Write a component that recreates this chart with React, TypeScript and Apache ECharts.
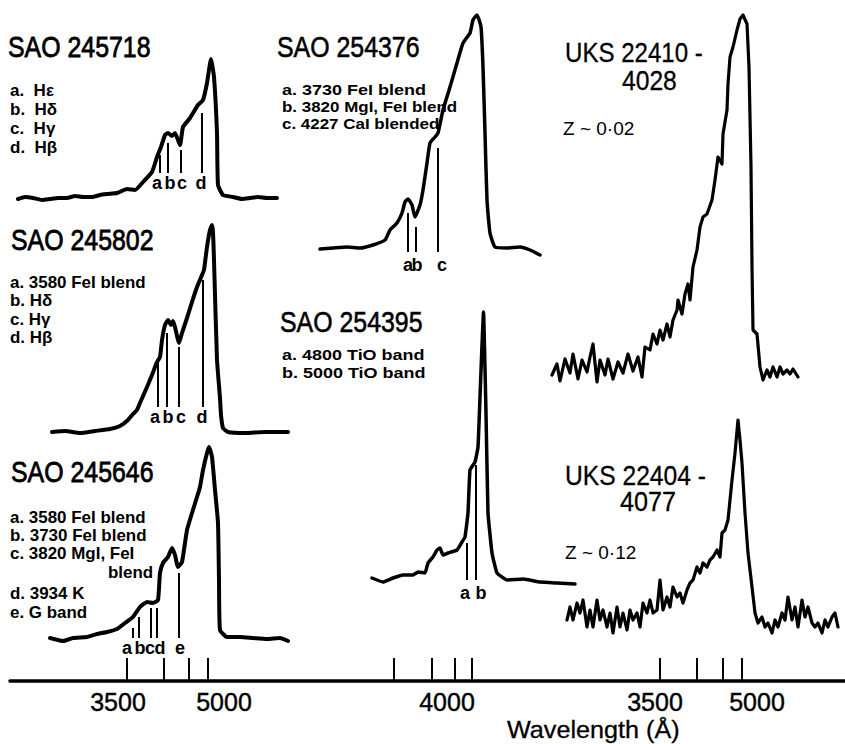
import React, { useEffect, useRef } from "react";
import * as echarts from "echarts";

// ---------------- DATA ----------------
// Positions are along the plate (arbitrary units shared with the bottom axis);
// intensities are relative, measured above each spectrum's own continuum baseline.

// SAO 245718
const sao245718Pos = [18, 25, 33, 42, 50, 58, 67, 75, 83, 92, 100, 108, 117, 127, 135, 143, 152, 157, 161, 165, 168, 172, 175, 180, 183, 190, 198, 203, 207, 211, 214, 217, 218, 223, 233, 242, 250, 258, 267, 277];
const sao245718Flux = [-1, 1, 0, -2, -1, 0, 0, 2, 1, 1, 3, 4, 5, 9, 8, 16, 26, 41, 51, 63, 65, 62, 65, 53, 71, 80, 93, 98, 115, 139, 121, 65, 13, 3, 1, -1, 0, 1, 0, 0];
const sao245718LinePos = [160, 168, 181, 202];
const sao245718LineTop = [43, 55, 48, 85];
const sao245718LetterPos = [157, 170, 182, 201];
const sao245718Letters = ["a", "b", "c", "d"];

// SAO 245802
const sao245802Pos = [52, 65, 80, 95, 110, 120, 128, 133, 137, 140, 147, 152, 157, 160, 162, 165, 168, 171, 173, 175, 179, 182, 187, 192, 197, 202, 204, 207, 210, 212, 213, 214, 217, 220, 221, 223, 228, 245, 265, 288];
const sao245802Flux = [0, 1, -1, 1, 3, 6, 12, 18, 22, 29, 45, 57, 70, 75, 92, 107, 112, 107, 111, 105, 89, 99, 114, 130, 145, 157, 162, 185, 202, 207, 200, 172, 72, 34, 17, 4, 0, -1, 0, 0];
const sao245802LinePos = [158, 167, 179, 203];
const sao245802LineTop = [69, 99, 85, 152];
const sao245802LetterPos = [155, 168, 181, 202];
const sao245802Letters = ["a", "b", "c", "d"];

// SAO 245646
const sao245646Pos = [50, 63, 73, 87, 97, 107, 117, 125, 133, 140, 147, 153, 158, 160, 163, 168, 172, 175, 178, 182, 187, 192, 197, 200, 203, 207, 209, 212, 215, 218, 219, 220, 227, 240, 253, 267, 280, 288];
const sao245646Flux = [2, -1, 2, 3, 6, 8, 11, 17, 23, 33, 38, 37, 40, 67, 77, 83, 92, 85, 73, 78, 110, 127, 143, 153, 170, 187, 193, 183, 150, 117, 60, 10, 3, 3, 2, 1, 2, -1];
const sao245646LinePos = [133, 139, 151, 157, 179];
const sao245646LineTop = [12, 23, 32, 32, 67];
const sao245646LetterPos = [127, 140, 150, 160, 180];
const sao245646Letters = ["a", "b", "c", "d", "e"];

// SAO 254376
const sao254376Pos = [320, 333, 347, 360, 373, 385, 390, 397, 402, 405, 408, 412, 415, 420, 423, 427, 430, 435, 438, 443, 450, 457, 463, 470, 473, 477, 481, 483, 485, 487, 490, 495, 507, 520, 530, 540];
const sao254376Flux = [0, 1, 2, 1, 4, 9, 19, 26, 36, 47, 50, 44, 32, 44, 59, 86, 106, 112, 116, 139, 162, 186, 206, 216, 229, 234, 222, 182, 116, 49, 16, 2, 1, 2, -1, -6];
const sao254376LinePos = [408, 416, 438];
const sao254376LineTop = [36, 22, 101];
const sao254376LetterPos = [408, 417, 442];
const sao254376Letters = ["a", "b", "c"];

// SAO 254395
const sao254395Pos = [372, 383, 393, 403, 413, 418, 425, 428, 433, 437, 440, 443, 448, 457, 462, 465, 468, 470, 475, 478, 480, 483.5, 486, 488, 492, 497, 507, 523, 540, 557, 575];
const sao254395Flux = [2, -2, 2, 5, 5, 8, 7, 17, 23, 30, 32, 25, 27, 30, 38, 43, 67, 110, 118, 133, 183, 268, 167, 67, 27, 7, 0, 1, -2, -3, -4];
const sao254395LinePos = [467, 476];
const sao254395LineTop = [37, 115];
const sao254395LetterPos = [465, 481];
const sao254395Letters = ["a", "b"];

// UKS 22410-4028
const uks22410Pos = [552, 557, 560, 565, 570, 573, 578, 582, 587, 590, 593, 597, 600, 605, 608, 613, 618, 623, 628, 633, 638, 642, 645, 650, 653, 657, 660, 663, 667, 670, 673, 677, 678, 682, 685, 688, 690, 693, 697, 700, 703, 707, 712, 715, 718, 722, 723, 727, 728, 730, 733, 737, 740, 743, 747, 749, 751, 752, 753, 757, 760, 763, 767, 770, 773, 777, 780, 783, 787, 790, 793, 798];
const uks22410Flux = [-8, 3, -14, 8, -6, 13, -12, 7, -5, 10, 23, -15, 7, -8, 8, -12, 5, -6, 13, -4, 10, -10, 20, 17, 33, 23, 37, 27, 43, 30, 47, 57, 67, 53, 73, 83, 67, 100, 117, 140, 150, 153, 167, 187, 210, 203, 233, 257, 283, 310, 320, 337, 348, 352, 343, 300, 200, 100, 37, 33, 0, -13, -3, -10, 0, -10, 0, -7, -3, -7, -2, -10];

// UKS 22404-4077
const uks22404Pos = [567, 570, 573, 577, 580, 583, 587, 590, 593, 597, 600, 603, 607, 610, 613, 617, 620, 623, 627, 630, 633, 637, 640, 643, 647, 650, 653, 657, 660, 663, 667, 670, 673, 677, 680, 683, 687, 690, 693, 697, 700, 703, 707, 710, 713, 717, 720, 722, 725, 728, 732, 735, 738, 740, 742, 745, 748, 752, 755, 758, 762, 765, 768, 772, 775, 778, 782, 785, 788, 792, 795, 798, 802, 805, 808, 812, 815, 818, 822, 825, 828, 832, 835, 838];
const uks22404Flux = [0, 13, 0, 17, 7, 20, -7, 10, -7, 20, 0, 10, -7, 7, -13, 13, -7, 7, -10, 10, 0, 7, -7, 17, 7, 20, 7, 10, 40, 10, 23, 13, 33, 23, 27, 17, 30, 37, 40, 53, 47, 57, 53, 60, 63, 70, 63, 87, 90, 100, 140, 167, 200, 180, 157, 107, 67, 33, 7, -3, 3, -7, -3, -13, 0, -7, 7, 0, 23, 0, 13, -7, 20, 3, 13, -3, -7, -3, -13, 0, -7, 3, 7, -7];

// Bottom wavelength axis
const tickPositions = [127, 164, 189, 208, 394, 432, 455, 472, 660, 697, 723, 742];
const labelPositions = [118, 224, 447, 655, 757];
const tickLabels = ["3500", "5000", "4000", "3500", "5000"];

// ---------------- LAYOUT ----------------
const FONT = '"Liberation Sans", Arial, sans-serif';

const panels = [
  { pos: sao245718Pos, flux: sao245718Flux, linePos: sao245718LinePos, lineTop: sao245718LineTop, lineBottom: 25, letterPos: sao245718LetterPos, letters: sao245718Letters, letterLevel: 15, baseline: 198, yMin: -12, yMax: 145, smooth: 0.15, width: 4 },
  { pos: sao245802Pos, flux: sao245802Flux, linePos: sao245802LinePos, lineTop: sao245802LineTop, lineBottom: 25, letterPos: sao245802LetterPos, letters: sao245802Letters, letterLevel: 15, baseline: 432, yMin: -12, yMax: 212, smooth: 0.15, width: 4 },
  { pos: sao245646Pos, flux: sao245646Flux, linePos: sao245646LinePos, lineTop: sao245646LineTop, lineBottom: 2, letterPos: sao245646LetterPos, letters: sao245646Letters, letterLevel: -8, baseline: 640, yMin: -15, yMax: 200, smooth: 0.15, width: 4 },
  { pos: sao254376Pos, flux: sao254376Flux, linePos: sao254376LinePos, lineTop: sao254376LineTop, lineBottom: -3, letterPos: sao254376LetterPos, letters: sao254376Letters, letterLevel: -16, baseline: 249, yMin: -22, yMax: 240, smooth: 0.15, width: 3.5 },
  { pos: sao254395Pos, flux: sao254395Flux, linePos: sao254395LinePos, lineTop: sao254395LineTop, lineBottom: 0, letterPos: sao254395LetterPos, letters: sao254395Letters, letterLevel: -13, baseline: 580, yMin: -20, yMax: 272, smooth: 0.1, width: 3.5 },
  { pos: uks22410Pos, flux: uks22410Flux, linePos: [], lineTop: [], lineBottom: 0, letterPos: [], letters: [], letterLevel: 0, baseline: 367, yMin: -20, yMax: 358, smooth: 0, width: 3.2 },
  { pos: uks22404Pos, flux: uks22404Flux, linePos: [], lineTop: [], lineBottom: 0, letterPos: [], letters: [], letterLevel: 0, baseline: 620, yMin: -20, yMax: 205, smooth: 0, width: 3.2 },
];

type T = { text: string; x: number; y: number; size: number; weight?: string; sx?: number; thick?: number };
const texts: T[] = [
  { text: "SAO 245718", x: 8, y: 47, size: 30, sx: 0.83, thick: 0.8 },
  { text: "SAO 245802", x: 11, y: 240, size: 30, sx: 0.83, thick: 0.8 },
  { text: "SAO 245646", x: 11, y: 472, size: 30, sx: 0.83, thick: 0.8 },
  { text: "SAO 254376", x: 277, y: 47, size: 30, sx: 0.83, thick: 0.6 },
  { text: "SAO 254395", x: 280, y: 322, size: 30, sx: 0.83, thick: 0.6 },
  { text: "UKS 22410 -", x: 565, y: 52, size: 28, sx: 0.86, thick: 0.3 },
  { text: "4028", x: 622, y: 80, size: 28, sx: 0.88, thick: 0.3 },
  { text: "UKS 22404 -", x: 565, y: 475, size: 28, sx: 0.88, thick: 0.3 },
  { text: "4077", x: 620, y: 502, size: 28, sx: 0.9, thick: 0.3 },
  { text: "a.  Hε", x: 10, y: 90, size: 17, weight: "bold", sx: 1.0 },
  { text: "b.  Hδ", x: 10, y: 109, size: 17, weight: "bold", sx: 1.0 },
  { text: "c.  Hγ", x: 10, y: 128, size: 17, weight: "bold", sx: 1.0 },
  { text: "d.  Hβ", x: 10, y: 147, size: 17, weight: "bold", sx: 1.0 },
  { text: "a. 3580 FeI blend", x: 10, y: 282, size: 16, weight: "bold", sx: 1.06 },
  { text: "b. Hδ", x: 10, y: 300, size: 16, weight: "bold", sx: 1.06 },
  { text: "c. Hγ", x: 10, y: 319, size: 16, weight: "bold", sx: 1.06 },
  { text: "d. Hβ", x: 10, y: 337, size: 16, weight: "bold", sx: 1.06 },
  { text: "a. 3580 FeI blend", x: 10, y: 517, size: 16, weight: "bold", sx: 1.06 },
  { text: "b. 3730 FeI blend", x: 10, y: 535, size: 16, weight: "bold", sx: 1.06 },
  { text: "c. 3820 MgI, FeI", x: 10, y: 553, size: 16, weight: "bold", sx: 1.06 },
  { text: "blend", x: 108, y: 572, size: 16, weight: "bold", sx: 1.06 },
  { text: "d. 3934 K", x: 10, y: 593, size: 16, weight: "bold", sx: 1.06 },
  { text: "e. G band", x: 10, y: 612, size: 16, weight: "bold", sx: 1.06 },
  { text: "a. 3730 FeI blend", x: 282, y: 90, size: 15, weight: "bold", sx: 1.2 },
  { text: "b. 3820 MgI, FeI blend", x: 282, y: 107, size: 15, weight: "bold", sx: 1.13 },
  { text: "c. 4227 CaI blended", x: 282, y: 124, size: 15, weight: "bold", sx: 1.13 },
  { text: "a. 4800 TiO band", x: 282, y: 355, size: 15, weight: "bold", sx: 1.2 },
  { text: "b. 5000 TiO band", x: 282, y: 373, size: 15, weight: "bold", sx: 1.2 },
  { text: "Z ~ 0·02", x: 563, y: 128, size: 19, sx: 1.0 },
  { text: "Z ~ 0·12", x: 565, y: 552, size: 19, sx: 1.0 },
  { text: "Wavelength (Å)", x: 507, y: 730, size: 24, sx: 1.05, thick: 0.3 },
];

export default function App() {
  const ref = useRef<HTMLDivElement>(null);

  useEffect(() => {
    if (!ref.current) return;
    const chart = echarts.init(ref.current, undefined, { renderer: "svg" });

    const grids: any[] = [];
    const xAxes: any[] = [];
    const yAxes: any[] = [];
    const series: any[] = [];

    panels.forEach((p, i) => {
      grids.push({ left: 10, right: 0, top: p.baseline - p.yMax, height: p.yMax - p.yMin, containLabel: false, outerBoundsMode: "none" });
      xAxes.push({ type: "value", gridIndex: i, min: 10, max: 845, show: false });
      yAxes.push({ type: "value", gridIndex: i, min: p.yMin, max: p.yMax, show: false });
      series.push({
        type: "line",
        xAxisIndex: i,
        yAxisIndex: i,
        data: p.pos.map((x, k) => [x, p.flux[k]]),
        symbol: "none",
        showSymbol: false,
        smooth: p.smooth,
        clip: false,
        silent: true,
        lineStyle: { color: "#000", width: p.width, join: "round", cap: "round" },
      });
      if (p.linePos.length) {
        series.push({
          type: "custom",
          xAxisIndex: i,
          yAxisIndex: i,
          silent: true,
          clip: false,
          data: p.linePos.map((x, k) => [x, p.lineTop[k], p.lineBottom]),
          renderItem: (_params: any, api: any) => {
            const a = api.coord([api.value(0), api.value(1)]);
            const b = api.coord([api.value(0), api.value(2)]);
            return { type: "line", shape: { x1: a[0], y1: a[1], x2: b[0], y2: b[1] }, style: { stroke: "#000", lineWidth: 2 } };
          },
        });
        series.push({
          type: "custom",
          xAxisIndex: i,
          yAxisIndex: i,
          silent: true,
          clip: false,
          data: p.letterPos.map((x) => [x, p.letterLevel]),
          renderItem: (params: any, api: any) => {
            const c = api.coord([api.value(0), api.value(1)]);
            return {
              type: "text",
              x: c[0],
              y: c[1],
              style: { text: p.letters[params.dataIndex], fill: "#000", font: `bold 18px ${FONT}`, align: "center", verticalAlign: "middle" },
            };
          },
        });
      }
    });

    // bottom wavelength axis
    const ai = panels.length;
    grids.push({ left: 10, right: 0, top: 600, height: 81, containLabel: false, outerBoundsMode: "none" });
    xAxes.push({
      type: "value",
      gridIndex: ai,
      min: 10,
      max: 845,
      position: "bottom",
      axisLine: { show: true, lineStyle: { color: "#000", width: 3.5 } },
      axisTick: { show: true, inside: true, length: 23, customValues: tickPositions, lineStyle: { color: "#000", width: 2 } },
      axisLabel: {
        show: true,
        customValues: labelPositions,
        margin: 8,
        color: "#000",
        fontSize: 25,
        fontFamily: FONT,
        textBorderColor: "#000",
        textBorderWidth: 0.4,
        formatter: (v: number) => {
          const idx = labelPositions.indexOf(v);
          return idx >= 0 ? tickLabels[idx] : "";
        },
      },
      splitLine: { show: false },
    });
    yAxes.push({ type: "value", gridIndex: ai, min: 0, max: 1, show: false });

    chart.setOption({
      animation: false,
      backgroundColor: "#fff",
      grid: grids,
      xAxis: xAxes,
      yAxis: yAxes,
      series,
      graphic: {
        elements: texts.map((t) => ({
          type: "text",
          x: t.x,
          y: t.y,
          scaleX: t.sx ?? 1,
          silent: true,
          style: {
            text: t.text,
            fill: "#000",
            stroke: t.thick ? "#000" : undefined,
            lineWidth: t.thick ?? 0,
            font: `${t.weight ?? "normal"} ${t.size}px ${FONT}`,
            verticalAlign: "middle",
            align: "left",
          },
        })),
      },
    });

    return () => chart.dispose();
  }, []);

  return <div ref={ref} style={{ position: "fixed", left: 0, top: 0, width: 845, height: 744 }} />;
}
